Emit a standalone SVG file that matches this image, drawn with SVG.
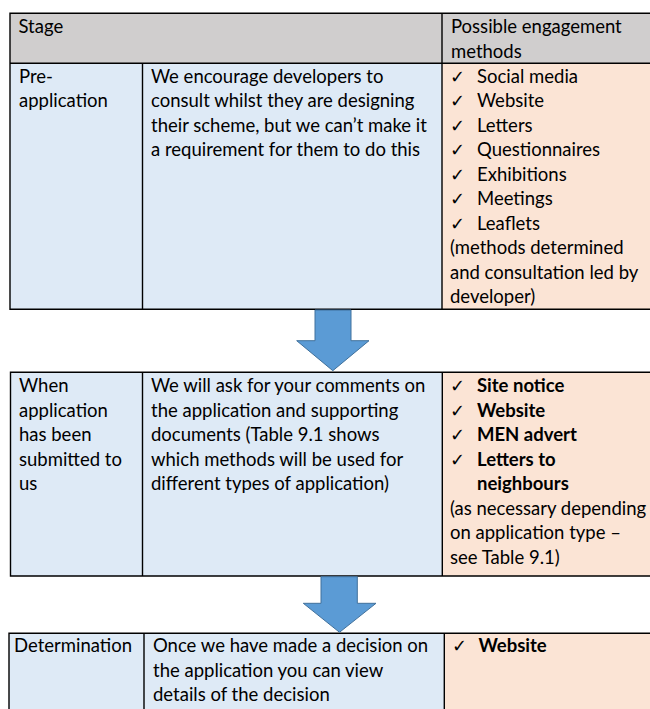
<svg xmlns="http://www.w3.org/2000/svg" width="650" height="709" viewBox="0 0 650 709">
<style>
text{font-family:Lato,"Liberation Sans",sans-serif;font-size:18.5px;fill:#000}
.b{font-weight:bold}
.ck{font-family:"DejaVu Sans",sans-serif;font-size:18px}
.hd{fill:#D0CECE}
.bl{fill:#DEEAF6}
.pc{fill:#FBE4D5}
.ln{stroke:#000;stroke-width:1.4;fill:none}
.ar{fill:#5B9BD5;stroke:#41719C;stroke-width:1}
</style>
<rect width="650" height="709" fill="#fff"/>
<g id="table1">
<rect class="hd" x="10" y="13.3" width="645" height="50"/>
<rect class="bl" x="10" y="63.3" width="432" height="246"/>
<rect class="pc" x="442" y="63.3" width="213" height="246"/>
<path class="ln" d="M655 13.3H10V309.3H655M10 63.3H655M142.5 63.3V309.3M442 13.3V309.3"/>
<text x="18.5" y="33">Stage</text>
<text x="451" y="33">Possible engagement</text>
<text x="451" y="57.5">methods</text>
<text x="19" y="82.5">Pre-</text>
<text x="19" y="107">application</text>
<text x="151" y="82.5">We encourage developers to</text>
<text x="151" y="107">consult whilst they are designing</text>
<text x="151" y="131.5">their scheme, but we can’t make it</text>
<text x="151" y="156">a requirement for them to do this</text>
<text class="ck" x="450" y="82.5">✓</text><text class="ck" x="450" y="107">✓</text><text class="ck" x="450" y="131.5">✓</text><text class="ck" x="450" y="156">✓</text><text class="ck" x="450" y="180.5">✓</text><text class="ck" x="450" y="205">✓</text><text class="ck" x="450" y="229.5">✓</text>
<text x="477" y="82.5">Social media</text>
<text x="477" y="107">Website</text>
<text x="477" y="131.5">Letters</text>
<text x="477" y="156">Questionnaires</text>
<text x="477" y="180.5">Exhibitions</text>
<text x="477" y="205">Meetings</text>
<text x="477" y="229.5">Leaflets</text>
<text x="450" y="254">(methods determined</text>
<text x="450" y="278.5">and consultation led by</text>
<text x="450" y="303">developer)</text>
</g>
<g id="table2">
<rect class="bl" x="10.5" y="372.3" width="431.5" height="203.7"/>
<rect class="pc" x="442" y="372.3" width="213" height="203.7"/>
<path class="ln" d="M655 372.3H10.5V576H655M142.5 372.3V576M442.3 372.3V576"/>
<text x="19" y="392.3">When</text>
<text x="19" y="416.8">application</text>
<text x="19" y="441.3">has been</text>
<text x="19" y="465.8">submitted to</text>
<text x="19" y="490.3">us</text>
<text x="151" y="392.3">We will ask for your comments on</text>
<text x="151" y="416.8">the application and supporting</text>
<text x="151" y="441.3">documents (Table 9.1 shows</text>
<text x="151" y="465.8">which methods will be used for</text>
<text x="151" y="490.3">different types of application)</text>
<text class="ck" x="450" y="392.3">✓</text><text class="ck" x="450" y="416.8">✓</text><text class="ck" x="450" y="441.3">✓</text><text class="ck" x="450" y="465.8">✓</text>
<text class="b" x="477" y="392.3">Site notice</text>
<text class="b" x="477" y="416.8">Website</text>
<text class="b" x="477" y="441.3">MEN advert</text>
<text class="b" x="477" y="465.8">Letters to</text>
<text class="b" x="477" y="490.3">neighbours</text>
<text x="450" y="514.8">(as necessary depending</text>
<text x="450" y="539.3">on application type –</text>
<text x="450" y="563.8">see Table 9.1)</text>
</g>
<g id="table3">
<rect class="bl" x="9" y="633.3" width="435" height="80"/>
<rect class="pc" x="444" y="633.3" width="211" height="80"/>
<path class="ln" d="M655 633.3H9V715M144 633.3V715M444.3 633.3V715"/>
<text x="14" y="652">Determination</text>
<text x="153" y="652">Once we have made a decision on</text>
<text x="153" y="676.5">the application you can view</text>
<text x="153" y="701">details of the decision</text>
<text class="ck" x="452" y="652">✓</text>
<text class="b" x="478.5" y="652">Website</text>
</g>
<g id="connectors">
<path class="ar" d="M315 310V340.7H296.7L332.8 370.7L369 340.7H351V310Z"/>
<path class="ar" d="M321 576.7V603.3H303.3L339.5 632.3L376 603.3H357.3V576.7Z"/>
</g>
</svg>
